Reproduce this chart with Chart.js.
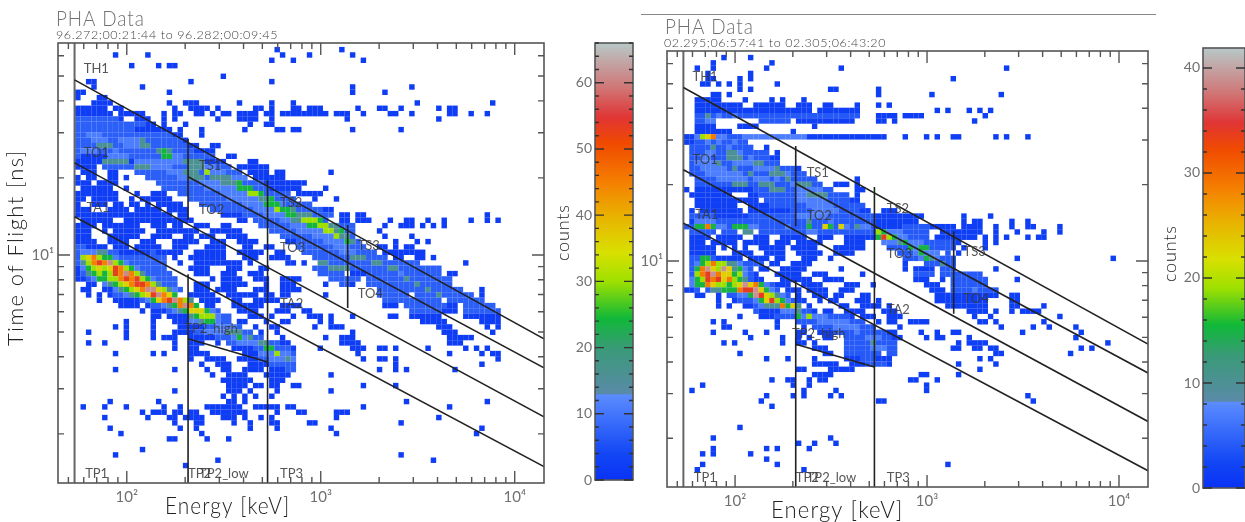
<!DOCTYPE html>
<html>
<head>
<meta charset="utf-8">
<title>PHA Data</title>
<script src="https://cdn.jsdelivr.net/npm/chart.js@4"></script>
<style>
  html, body { margin: 0; padding: 0; background: #fff; }
  body { width: 1245px; height: 522px; position: relative; overflow: hidden; }
  .box { position: absolute; top: 0; height: 522px; }
  canvas { filter: blur(0.4px); }
  #topRule { position: absolute; left: 641px; top: 14px; width: 515px; height: 1px; background: #888; }
</style>
</head>
<body>
<div class="box" style="left:0;width:550px"><canvas id="leftPlot"></canvas></div>
<div class="box" style="left:550px;width:95px"><canvas id="leftBar"></canvas></div>
<div class="box" style="left:640px;width:520px"><canvas id="rightPlot"></canvas></div>
<div class="box" style="left:1160px;width:85px"><canvas id="rightBar"></canvas></div>
<div id="topRule"></div>
<script>
// axis ranges
const xRange = [44.2, 14160];
const yRange = [1.285, 67.3];
const xTickValues = [50, 60, 70, 80, 90, 100, 200, 300, 400, 500, 600, 700, 800, 900, 1000, 2000, 3000, 4000, 5000, 6000, 7000, 8000, 9000, 10000];
const yTickValues = [2, 3, 4, 5, 6, 7, 8, 9, 10, 20, 30, 40, 50, 60];
const xTickLabels = { 100: "10²", 1000: "10³", 10000: "10⁴" };
const yTickLabels = { 10: "10¹" };

// region boundaries in keV / ns
const boundaryLines = [
  [[53.8, 48.3], [14160, 4.70]],
  [[207, 20.2], [14160, 3.62]],
  [[53.8, 22.9], [14160, 2.33]],
  [[53.8, 14.1], [14160, 1.49]],
  [[207, 4.70], [532, 3.82]],
  [[207, 28.4], [207, 13.7]],
  [[207, 8.4], [207, 1.285]],
  [[532, 19.6], [532, 1.285]],
  [[1377, 13.1], [1377, 6.2]]
];
const edgeLine = [[53.8, 1.285], [53.8, 67.3]];
const regionNames = ["TH1", "TO1", "TS1", "TO2", "TA1", "TS2", "TO3", "TS3", "TO4", "TA2", "TP2_high", "TP1", "TP2", "TP2_low", "TP3"];
const regionX = [60, 60, 236, 236, 62, 617, 617, 1550, 1550, 617, 198, 61, 207, 236, 617];
const regionY = [51.3, 24.1, 21.5, 14.5, 14.7, 15.4, 10.3, 10.5, 6.8, 6.2, 4.96, 1.35, 1.35, 1.35, 1.35];

// colour bar stops, fraction of the bar height
const barStops = [0, 0.06, 0.195, 0.197, 0.30, 0.37, 0.454, 0.52, 0.60, 0.68, 0.77, 0.83, 0.90, 1];
const barColors = ["#0a32f5", "#1247f5", "#5b8cff", "#5a8aa8", "#3a9a78", "#10b838", "#9ee000", "#d8e000", "#e8b400", "#f58000", "#f04a00", "#e03535", "#d07878", "#b8c8c8"];
const leftBarMax = 66;
const rightBarMax = 41.9;

// level in a row string -> counts
const leftLevelCounts = [0, 2, 7, 11, 16, 24, 30, 36, 45, 53, 61];
const rightLevelCounts = [0, 1.5, 4, 7, 10, 15, 19, 23, 29, 34, 39];

// rows run top to bottom, "col-col:level". later tokens overwrite earlier ones
const leftRows = [
  "40:1 52:1",
  "10:1 16:1 41:1 46:1 54:1",
  "39:1 43:1 56:1",
  "13:1 18:1 20-21:1",
  "",
  "30:1",
  "5-6:1 24:1 39:1",
  "6:1 15:1 54:1 65:1",
  "3-4:1 20:1 54:1 60:1",
  "3:1 7-8:1",
  "6-9:1 20:1 23-25:1 33:1 39:1 43:1 66:1 80:1",
  "3-8:1 10-11:1 21:1 24-27:1 29:1 36-37:1 39:1 43-44:1 46-48:1 55:1 59-60:1 63:1 70:1 72-73:1",
  "3-9:1 11-15:1 19:1 21-22:1 25-26:1 28:1 30-31:1 33-36:1 38-39:1 41-46:1 47-49:1 51-53:1 56:1 61-62:1 65:1 72-73:1 76:1 79:1",
  "3-10:2 11:1 14-16:1 19:1 21:1 29:1 33-35:1 36:1 39:1 53:1 70:1",
  "3-15:2 16-17:1 19:1 23:1 35:1 38-39:1",
  "3-13:2 14-20:1 22:1 26:1 34:1 40-41:1 43:1 44:1 54:1 63:1",
  "3-20:2 5-7:3 21-22:1 26:1",
  "3-22:2 6-8:3 11-14:3 15:4 23:1",
  "3-23:2 7-9:4 12-14:3 15-16:4 24-25:1 28-29:1",
  "3-24:2 4-6:3 10:3 18-20:4 19:5 25-28:1",
  "3-28:2 4-8:1 9-12:3 19-22:3 19-20:5 31-32:1",
  "3-30:1 8-12:4 14-18:3 19-22:3 23-26:4 35-36:1",
  "3-6:1 8-31:2 14-16:4 17-20:3 24-26:4 27-28:3 33-38:1",
  "4-6:1 9-10:1 14-33:2 20-22:3 23-25:4 27:6 28-30:3 35-38:1 40-41:1 50:1",
  "3:1 5-6:1 9-10:1 12:1 16-34:2 22-26:3 24-26:4 28-31:4 32-34:3 36-41:1",
  "3-5:1 7-10:1 18-37:2 26-30:3 30-33:4 33:5 38-41:1 42-45:1",
  "4-9:1 12:1 19-38:2 27-32:3 33-35:5 39-44:1 49:1",
  "3-10:1 14:1 17-19:1 22-42:2 30-34:3 35-36:6 37:5 44-46:1 47-48:1",
  "3-4:1 6-10:1 13:1 15-20:1 24-43:2 31-36:3 37-38:4 39:5 47:1 51:1",
  "3:1 6-8:1 10-11:1 13-14:1 16:1 18-22:1 26-46:2 34-37:3 38-40:5 41:3",
  "3-5:1 9-12:1 14-18:1 20-23:1 28-48:2 36-39:3 40:6 41-42:5 43:4 49-50:1",
  "3-14:1 15-20:1 22-23:1 30-33:1 34-50:2 38-41:3 42-43:5 44-46:4 52-53:1 55-56:1 79:1",
  "4-22:1 10-11:0 23-24:1 33-34:1 36-49:2 41-43:3 43-44:4 45-47:6 48:5 52-53:1 55-57:1 61:1 64-65:1 68:1 71:1 76:1 79:1 81:1",
  "3-6:1 8-19:1 15-16:0 21-22:1 25-27:1 30-31:1 37-54:2 43-46:3 46-47:5 48-49:6 50-51:4 60:1 63-65:1 67:1 69:1 71:1",
  "3-5:1 8:1 10-15:1 18-24:1 25:1 28-33:1 39-54:2 44-48:3 49-50:6 51:4 52:5 59:1",
  "3-5:1 9-14:1 17-20:1 23-24:1 26-28:1 31-34:1 41-54:2 47-50:3 51:6 52-53:4 60:1 65:1",
  "3-6:1 9-12:1 15-17:1 21-25:1 28-30:1 33-36:1 42-44:1 44-55:2 49-52:3 53:5 54:4 62:1 66:1 68:1",
  "3-4:2 5-8:1 10-12:1 14-18:1 21-23:1 27-30:1 34-35:1 38-39:1 44-56:2 51-53:3 59-60:1 62:1 64-65:1",
  "3-19:2 4:3 5-6:3 7-8:4 11-16:1 18-22:1 25-30:1 33-37:1 40-41:1 45-58:2 52-54:3 60-63:1 64-67:1",
  "3:2 4:6 5:7 6:8 7:6 8-9:5 10:3 11-19:2 21:1 24-30:1 34-36:1 39-42:1 47-60:2 54-56:4 62-63:1 66-67:1 69:1",
  "3:2 4:4 5:6 6:8 7:9 8:8 9:10 10:6 11:5 12:3 13-19:2 22:1 25-33:1 35:1 42-43:1 45:1 48-49:4 50-66:2 58-59:4 75:1",
  "3:1 4:3 5:5 6:6 7:7 8:6 9:7 10:9 11:8 12:6 13:5 14:3 15-19:2 24-27:1 31-33:1 37-38:1 47-70:2 50-53:4 61-62:4",
  "3:1 4:2 5:4 6:5 7:6 8:5 9:6 10:9 11:8 12:10 13:8 14:6 15:4 16-20:2 25-27:1 30-32:1 35-37:1 48-52:2 54-56:1 57-70:2 63:3 72-73:1",
  "3-4:1 5:2 6:3 7-8:5 9-10:6 11:8 12:9 13:8 14:9 15:6 16:5 17:3 18-21:2 28:1 30-33:1 36-38:1 41-44:1 50-52:2 53-55:2 57-72:2 64:4",
  "5-6:1 8:3 9:4 10:5 11:6 12:7 13:8 14-15:9 16:8 17:6 18:4 19-21:2 25-27:1 30-34:1 38:1 41-43:1 49:1 52-53:2 54:1 57-72:2 66:4",
  "4-5:1 8-9:1 10:3 11:4 12:5 13:6 14:7 15:8 16-17:10 18:7 19:6 20:4 21:3 22:2 25-27:1 29-32:1 36-38:1 41-44:1 59-74:2 68:4 78:1",
  "5:1 7:1 9:1 10-11:2 12:3 13:4 14:5 15:6 16:7 17:9 18:10 19:8 20:7 21:5 24-28:1 31-36:1 38-39:1 41-42:1 49:1 59-64:2 66-76:2 70:4 78:1",
  "7:1 10-14:1 15:2 16:3 17:5 18:7 19:8 20:9 21:10 22:8 23:6 24:4 26-29:1 32-33:1 36-40:1 60-70:2 72-78:2",
  "11-14:1 16:1 17-18:2 19:3 20:4 21:5 22:8 23:10 24:8 25:5 27-28:1 32-37:1 41-44:1 60-62:1 64-71:2 72-73:1 75-80:2",
  "15:1 17-19:1 20:2 21:3 22:4 23:5 24-26:7 27:5 28:3 29:2 33-36:1 40-42:1 45-46:1 65-70:2 71-73:1 75-81:2",
  "17-18:1 20-23:1 24:4 25:5 26-28:6 29:3 30-31:2 35-37:1 39:1 43:1 46-48:1 50:1 54:1 61-62:1 65-70:1 75-81:1",
  "12:1 17:1 21-23:1 24-25:3 26:4 27-28:5 29:3 30-31:2 33-34:1 38:1 41-42:1 48:1 50:1 67-71:1 78-81:1",
  "10:1 12:1 17:1 22-26:1 27-28:2 29-32:3 33:2 36:1 39-40:1 47:1 50-52:1 70-72:1 79:1 81:1",
  "5:1 12:1 17:1 21-25:1 25-26:2 27-33:3 31-33:4 34-35:2 37:1 40:1 54:1 71-73:1 80:1",
  "12:1 17:1 19-21:1 24-28:1 29-31:2 32-34:3 33:5 35:4 36-37:2 41:1 49:1 52-54:1 72-76:1",
  "5:1 8:1 21:1 24-26:1 29:1 31-32:2 33-37:3 37-38:4 39-40:2 41-42:1 52-55:1 72-74:1",
  "21:1 24-25:1 32-35:1 36-37:2 38-39:5 40-42:2 43:1 48:1 54-56:1 59-60:1 62:1 68:1 75:1 77:1 79:1",
  "10:1 17:1 19:1 24-26:1 27:1 34-36:1 37-39:3 40:6 41-42:3 43:2 55:1 72:1 78:1 80-81:1",
  "24:1 27-30:1 33-36:1 37-38:2 39-43:3 42:4 56:1 59-60:1 62:1 81:1",
  "26:1 29-31:1 35-38:1 39-43:2 62:1 78:1",
  "10:1 21:1 27:1 30-31:1 34-37:1 39-41:1 42-43:2 59:1 62:1 64:1 73:1",
  "28:1 31-34:1 38-39:1 40-42:1 50:1",
  "30-35:1 39-41:1",
  "31-34:1 36-37:1 39-40:1 43:1 44:1 56:1 62:1",
  "21:1 31-33:1 35:1 40:1 50:1",
  "30:1 32:1 34:1 36:1 39:1",
  "9:1 18:1 31-32:1 34:1 64:1 79:1",
  "4:1 8:1 12:1 19:1 22:1 27-33:1 36-39:1 40:1 42:1 43:1 56:1 72:1",
  "15:1 17-19:1 21-22:1 24-25:1 28-34:1 40:1 44-45:1 51-53:1",
  "8:1 16:1 20-21:1 23-26:1 30-32:1 34:1 37:1 39:1 51:1 70:1",
  "21:1 25-26:1 32:1 35:1 39-40:1 46-47:1 63:1",
  "9:1 22:1 25:1 35:1 40:1 50:1 78:1",
  "11:1 26:1 51:1 77:1",
  "20-21:1 27:1 31:1",
  "",
  "15:1",
  "10:1 63:1",
  "29:1 69:1",
  "23:1",
  ""
];

const rightRows = [
  "10:1 15:1",
  "8:1 19:1",
  "5:1 8:1 18:1 32:1 63:1",
  "7:1 15:1",
  "7-8:1 13:1 15:1 53:1",
  "6-7:1 9:1 11:1 13:1 20:1",
  "13:1 15:1 30-31:1 39:1",
  "8-9:1 11:1 39:1 49:1 62:1",
  "5-9:1 14:1 19:1 21:1 25:1",
  "5-13:1 16-21:1 24-26:1 29-30:1 35:1 39:1 41:1",
  "5-23:1 24-26:1 28-31:1 32-35:1 50:1 52:1 56:1 58:1 60:1",
  "5-35:2 7:4 9:3 12:3 39-42:1 44-45:1 46-47:1 59:1",
  "5-6:2 7-8:3 10-16:0 17-22:2 24-34:1 39-40:1 42:1 57:1",
  "5-8:1 13-16:1 27:1",
  "5-8:1 9-11:1 23:1",
  "3-4:1 5:3 6:6 7:7 8:8 9-10:3 11-17:2 14-18:3 19-24:3 25:3 26-40:1 44:1 48:1 50:1 53-54:1 61:1 63:1 67:1",
  "3-4:1 5-14:2 7:3 9:3 12:3",
  "4-15:2 8:4 11:3 18:1",
  "4-18:2 7-8:3 11-12:4 13:3 20:1",
  "4-18:2 6-7:3 11-13:4 15:3 19-20:1",
  "4-20:2 5-8:3 9:4 12-15:3 16-17:4",
  "4-23:2 6-10:3 12:4 16-19:3 20:4 24:1",
  "4-25:2 7-13:3 15:4 19-21:4 22:3",
  "5-27:2 9-14:3 16-18:3 20:3 22:4 35:1",
  "5-28:2 12-14:4 17-19:4 23:3 24-26:4 31-33:1 35:1",
  "3:1 5-15:1 16-30:2 19-21:4 24-28:3 35-36:1",
  "4-16:1 12-14:0 17-33:2 24-26:3 26-29:4 35:1",
  "5-16:1 18-34:2 24-29:3 34-35:1",
  "5-12:1 15-20:1 19-36:2 26-30:3",
  "4:1 6-13:1 15-22:1 23-36:2 27-31:3 36-37:1 40-42:1",
  "4-9:2 9-14:1 15-38:2 24-29:3 39-47:1 55:1 60:1",
  "4-5:1 5-8:3 9-14:2 15-38:2 26:4 30:3 39-46:1 55:1 57-58:1 64:1 67:1",
  "3-37:2 5-7:5 7:8 8:5 9-10:3 12-14:5 15-16:3 22:3 26:5 29:7 30:5 32:7 33:3 35:4 36-37:3 38:2 39-53:1 44-48:2 55-58:1 61:1 64:1 67-68:1 73:1",
  "4-8:2 10-12:2 14-15:4 17-38:2 26-27:3 39:6 40:5 41-43:3 44-48:2 51-58:1 61:1 65:1 70:1 73:1",
  "4-7:1 9-13:1 16-18:1 21-25:1 28-30:1 33-39:1 39:5 40:9 41:6 42:5 43-44:3 45-48:2 50-57:1 59:1 61:1 63:1 67:1 69-70:1",
  "4-6:1 8-12:1 14-18:1 20-22:1 24-28:1 33-36:1 40-42:3 43:4 44:5 45-47:3 48-53:2 54:1 59:1 61:1",
  "4-8:1 10:1 12:1 14:1 17-21:1 23-27:1 31-36:1 41-44:2 45:5 46:3 47-48:5 49-53:2 55:1 59:1",
  "4-8:1 12-15:1 18-21:1 24-28:1 31-34:1 43-46:2 46-50:3 47:5 52:2 54:1",
  "4-8:2 6-7:5 9-13:1 15-18:1 20-21:1 25-27:1 30:1 44-53:2 47-50:3 48:5 49:4 65:1 83:1",
  "4:2 5:3 6:5 7:6 8:8 9-10:6 11-12:4 13:3 14-17:2 19-20:1 23-26:1 44:1 48-53:2 51:4",
  "4:2 5:5 6:8 7:10 8:7 9:6 10:10 11:7 12:4 13:5 14:3 15:2 17-18:1 21-25:1 32:1 44:1 46-49:1 51-53:2 61:1",
  "4:2 5:6 6:8 7:9 8:10 9:8 10-11:7 12:5 13:6 14:3 15:2 16:1 20-24:1 27-29:1 36:1 46-49:2 51-58:2",
  "4:3 5:5 6:6 7:9 8:8 9:9 10:7 11:8 12:6 13:5 14:4 15:2 16-17:1 21-23:1 24-26:1 29-32:1 46-48:1 51:1 53-59:2 65:1",
  "4:3 5-6:5 7:8 8:7 9-10:6 11:5 12:6 13:7 14:10 15:7 16:8 17:5 18:3 19:2 20-22:1 25-28:1 33-35:1 38:1 48-50:1 53-59:2",
  "3-4:1 5:2 7:2 8-9:4 10-12:5 13:8 14-15:9 16:10 17:7 18:5 19:3 20:2 22-24:1 26-29:1 32-34:1 49-51:1 53-61:2 57:3",
  "5-6:1 9:1 11-12:2 13-14:3 15:5 16:10 17:9 18:7 19:6 20:4 21:3 22:2 24:1 27-29:1 31-32:1 36-37:1 50-61:1 64-65:1",
  "9:1 12:1 13-15:2 16:3 17:5 18:7 19:9 20:6 21:5 22:3 23:2 24-25:1 28:1 30-31:1 35-37:1 39:1 50-59:1 64-65:1",
  "9:1 11:1 14-15:1 16:2 17:3 18-19:4 20:4 21:8 22:5 23:7 24:4 26:1 32-33:1 36-39:1 41:1 52-59:1 64-65:1 70:1",
  "16-23:2 17-20:1 21-23:3 24:4 25-26:2 27:1 29-30:1 33-36:1 40-42:1 56-59:1 61:1 64:1 66-69:1",
  "13:1 17-19:1 20-23:2 24:5 25:3 26:6 27-29:3 30-33:2 34:1 36-38:1 41-43:1 57:1 60:1 73:1",
  "8:1 10:1 20:1 24-36:2 28-33:3 39:1 41-42:1 45-48:1 58-59:1 61:1 70:1",
  "10-11:1 20:1 25:1 27-38:2 31-35:3 43:1 62:1 68:1 71:1 76:1",
  "8:1 14:1 18:1 24-25:1 28-30:1 31-40:2 35:3 41-42:1 47:1 50:1 53-54:1 66:1 77:1",
  "15:1 21:1 24:1 26:1 29-30:1 33-41:2 37-39:3 42-43:1 48:1 50-51:1 56:1 76:1",
  "10:1 12:1 21:1 24-25:1 27:1 33-42:2 38:4 54:1 56-59:1 82:1",
  "27-29:1 33-42:2 38-40:3 53-54:1 57-58:1 60-61:1 77:1 79:1",
  "13:1 29-30:1 33-39:2 41-42:2 61-62:1 75:1",
  "18:1 22:1 27:1 33-35:1 36-38:2 39-41:1 58:1 60:1",
  "27-31:1 34-36:1 37-40:2 41:1 54:1 61:1",
  "24-25:1 30:1 31-34:1 58:1",
  "27-29:1 30:1 47-48:1 54:1",
  "19:1 22-23:1 26:1 28-29:1 45-46:1 50:1",
  "6:1 23:1 26:1 48:1",
  "4:1 25:1 31:1 48:1",
  "18:1 23:1 25:1 30:1 32:1 67:1",
  "17:1 39-40:1 68:1",
  "19:1",
  "",
  "",
  "",
  "13:1",
  "",
  "8:1 30:1",
  "24:1 27:1 31:1",
  "8:1 18:1 20:1 26:1",
  "6:1 8:1 15:1",
  "18:1",
  "6:1 20:1 52:1",
  "5:1 25:1",
  "",
  "",
  ""
];

// bin layout of the detector histogram
const binsPerDecadeX = 36;
const binsPerDecadeY = 48;
const col100 = 12.58;   // column where 100 keV falls
const row10 = 39;       // row where 10 ns falls

function cellsFromRows(rows, levelCounts) {
  const cells = [];
  rows.forEach((row, r) => {
    const grid = {};
    row.split(" ").filter(Boolean).forEach(token => {
      const [range, level] = token.split(":");
      const [from, to] = range.split("-").map(Number);
      for (let c = from; c <= (to === undefined ? from : to); c++) {
        grid[c] = Number(level);
      }
    });
    Object.keys(grid).forEach(c => {
      if (!grid[c]) return;
      cells.push({
        x: 100 * Math.pow(10, (Number(c) + 0.5 - col100) / binsPerDecadeX),
        y: 10 * Math.pow(10, (row10 - r - 0.5) / binsPerDecadeY),
        count: levelCounts[grid[c]]
      });
    });
  });
  return cells;
}

function hexToRgb(hex) {
  return [1, 3, 5].map(i => parseInt(hex.substr(i, 2), 16));
}

function colorForFraction(f) {
  f = Math.min(1, Math.max(0, f));
  for (let i = 1; i < barStops.length; i++) {
    if (f <= barStops[i]) {
      const t = (f - barStops[i - 1]) / (barStops[i] - barStops[i - 1]);
      const a = hexToRgb(barColors[i - 1]);
      const b = hexToRgb(barColors[i]);
      return `rgb(${a.map((v, k) => Math.round(v + (b[k] - v) * t)).join(",")})`;
    }
  }
  return barColors[barColors.length - 1];
}

const AXIS_COLOR = "#555";
const LABEL_COLOR = "#707070";
const THIN_FONT = "Lato";

// inward ticks and frame, the original draws them on all four sides
const frameTicks = {
  id: "frameTicks",
  afterDatasetsDraw(chart) {
    const { ctx, chartArea: a, scales } = chart;
    ctx.save();
    ctx.strokeStyle = AXIS_COLOR;
    ctx.lineWidth = 1.6;
    ctx.strokeRect(a.left, a.top, a.width, a.height);
    ctx.lineWidth = 1.4;
    ctx.beginPath();
    if (chart.config.type === "bar") {
      ctx.strokeStyle = "#333";
      for (let v = 0; v <= scales.y.max; v += 2) {
        const p = scales.y.getPixelForValue(v);
        const len = v % 10 === 0 ? 9 : 4;
        ctx.moveTo(a.left, p); ctx.lineTo(a.left + len, p);
        ctx.moveTo(a.right, p); ctx.lineTo(a.right - len, p);
      }
    } else {
      xTickValues.forEach(v => {
        const p = scales.x.getPixelForValue(v);
        const len = xTickLabels[v] ? 12 : 6;
        ctx.moveTo(p, a.bottom); ctx.lineTo(p, a.bottom - len);
        ctx.moveTo(p, a.top); ctx.lineTo(p, a.top + len);
      });
      yTickValues.forEach(v => {
        const p = scales.y.getPixelForValue(v);
        const len = yTickLabels[v] ? 12 : 6;
        ctx.moveTo(a.left, p); ctx.lineTo(a.left + len, p);
        ctx.moveTo(a.right, p); ctx.lineTo(a.right - len, p);
      });
    }
    ctx.stroke();
    ctx.restore();
  }
};

// free text, each panel passes its own list
const panelText = {
  id: "panelText",
  afterDraw(chart, args, opts) {
    const { ctx, scales } = chart;
    ctx.save();
    (opts.items || []).forEach(t => {
      ctx.save();
      ctx.font = `${t.weight || 300} ${t.size}px ${THIN_FONT}`;
      ctx.fillStyle = t.color;
      ctx.letterSpacing = (t.spacing || 0) + "px";
      ctx.textBaseline = "alphabetic";
      ctx.translate(t.x, t.y);
      if (t.rotate) ctx.rotate(t.rotate);
      ctx.scale(t.sx || 1, 1);
      ctx.fillText(t.text, 0, 0);
      ctx.restore();
    });
    if (opts.regions) {
      ctx.font = `400 13px ${THIN_FONT}`;
      ctx.fillStyle = "rgba(55,55,55,0.85)";
      regionNames.forEach((name, i) => {
        ctx.fillText(name, scales.x.getPixelForValue(regionX[i]), scales.y.getPixelForValue(regionY[i]));
      });
    }
    ctx.restore();
  }
};

function plotChart(id, rows, levelCounts, barMax, box, texts) {
  const lineSets = boundaryLines.map(pts => ({
    type: "line",
    data: pts.map(p => ({ x: p[0], y: p[1] })),
    borderColor: "#222",
    borderWidth: 1.6,
    pointRadius: 0,
    order: 0
  }));
  lineSets.push({
    type: "line",
    data: edgeLine.map(p => ({ x: p[0], y: p[1] })),
    borderColor: "#666",
    borderWidth: 2,
    pointRadius: 0,
    order: 0
  });
  return new Chart(document.getElementById(id), {
    type: "scatter",
    data: {
      datasets: [{
        data: cellsFromRows(rows, levelCounts),
        pointStyle: "rect",
        pointRadius: 3.85,
        pointHoverRadius: 3.85,
        borderWidth: 0,
        backgroundColor: c => colorForFraction(c.raw ? c.raw.count / barMax : 0),
        order: 1
      }].concat(lineSets)
    },
    options: {
      responsive: false,
      animation: false,
      layout: { padding: { top: box.top, right: box.right, left: 0, bottom: 0 } },
      plugins: {
        legend: { display: false },
        tooltip: { enabled: false },
        panelText: { items: texts, regions: true }
      },
      scales: {
        x: {
          type: "logarithmic",
          min: xRange[0],
          max: xRange[1],
          grid: { display: false, drawTicks: false },
          border: { display: false },
          afterBuildTicks: s => { s.ticks = xTickValues.map(value => ({ value })); },
          afterFit: s => { s.height = box.bottom; },
          ticks: {
            autoSkip: false,
            maxRotation: 0,
            padding: 5,
            color: LABEL_COLOR,
            font: { family: THIN_FONT, size: 15, weight: 400 },
            callback: v => xTickLabels[v] || ""
          }
        },
        y: {
          type: "logarithmic",
          min: yRange[0],
          max: yRange[1],
          grid: { display: false, drawTicks: false },
          border: { display: false },
          afterBuildTicks: s => { s.ticks = yTickValues.map(value => ({ value })); },
          afterFit: s => { s.width = box.left; },
          ticks: {
            autoSkip: false,
            padding: 4,
            color: LABEL_COLOR,
            font: { family: THIN_FONT, size: 15, weight: 400 },
            callback: v => yTickLabels[v] || ""
          }
        }
      }
    },
    plugins: [frameTicks, panelText]
  });
}

function barChart(id, barMax, box, texts) {
  return new Chart(document.getElementById(id), {
    type: "bar",
    data: {
      labels: ["counts"],
      datasets: [{
        data: [barMax],
        barPercentage: 1,
        categoryPercentage: 1,
        backgroundColor: c => {
          const a = c.chart.chartArea;
          if (!a) return barColors[0];
          const g = c.chart.ctx.createLinearGradient(0, a.bottom, 0, a.top);
          barStops.forEach((s, i) => g.addColorStop(s, barColors[i]));
          return g;
        }
      }]
    },
    options: {
      responsive: false,
      animation: false,
      layout: { padding: { top: box.top, right: box.right, left: 0, bottom: 0 } },
      plugins: {
        legend: { display: false },
        tooltip: { enabled: false },
        panelText: { items: texts }
      },
      scales: {
        x: {
          display: true,
          grid: { display: false, drawTicks: false },
          border: { display: false },
          ticks: { display: false },
          afterFit: s => { s.height = box.bottom; }
        },
        y: {
          min: 0,
          max: barMax,
          grid: { display: false, drawTicks: false },
          border: { display: false },
          afterFit: s => { s.width = box.left; },
          ticks: {
            stepSize: 10,
            padding: 3,
            color: LABEL_COLOR,
            font: { family: THIN_FONT, size: 14, weight: 400 },
            callback: v => (v % 10 === 0 ? v : "")
          }
        }
      }
    },
    plugins: [frameTicks, panelText]
  });
}

function sizeCanvas(id, w, h) {
  const c = document.getElementById(id);
  c.width = w;
  c.height = h;
  c.style.width = w + "px";
  c.style.height = h + "px";
}

sizeCanvas("leftPlot", 550, 522);
sizeCanvas("leftBar", 95, 522);
sizeCanvas("rightPlot", 520, 522);
sizeCanvas("rightBar", 85, 522);

const titleGray = "#707070";
const subGray = "#444";
const axisTitle = "#222";

plotChart("leftPlot", leftRows, leftLevelCounts, leftBarMax,
  { left: 58, top: 43, right: 6, bottom: 39 },
  [
    { text: "PHA Data", x: 56, y: 26, size: 21, color: titleGray, spacing: 1, sx: 0.9 },
    { text: "96.272;00:21:44 to 96.282;00:09:45", x: 56, y: 39, size: 12.5, color: subGray, spacing: 0.6 },
    { text: "Energy [keV]", x: 165, y: 514, size: 24, color: axisTitle, spacing: 1.2, sx: 0.87 },
    { text: "Time of Flight [ns]", x: 23, y: 346, size: 22, color: axisTitle, spacing: 1.4, rotate: -Math.PI / 2 }
  ]);
barChart("leftBar", leftBarMax,
  { left: 45, top: 43, right: 12, bottom: 42 },
  [{ text: "counts", x: 19, y: 261, size: 18, color: axisTitle, spacing: 0.8, rotate: -Math.PI / 2 }]);
plotChart("rightPlot", rightRows, rightLevelCounts, rightBarMax,
  { left: 27, top: 51, right: 12, bottom: 35 },
  [
    { text: "PHA Data", x: 25, y: 34, size: 21, color: titleGray, spacing: 1, sx: 0.9 },
    { text: "02.295;06:57:41 to 02.305;06:43:20", x: 24, y: 47, size: 12.5, color: subGray, spacing: 0.6 },
    { text: "Energy [keV]", x: 131, y: 518, size: 24, color: axisTitle, spacing: 1.2, sx: 0.92 }
  ]);
barChart("rightBar", rightBarMax,
  { left: 43, top: 48, right: 0, bottom: 34 },
  [{ text: "counts", x: 16, y: 282, size: 18, color: axisTitle, spacing: 0.8, rotate: -Math.PI / 2 }]);
</script>
</body>
</html>
